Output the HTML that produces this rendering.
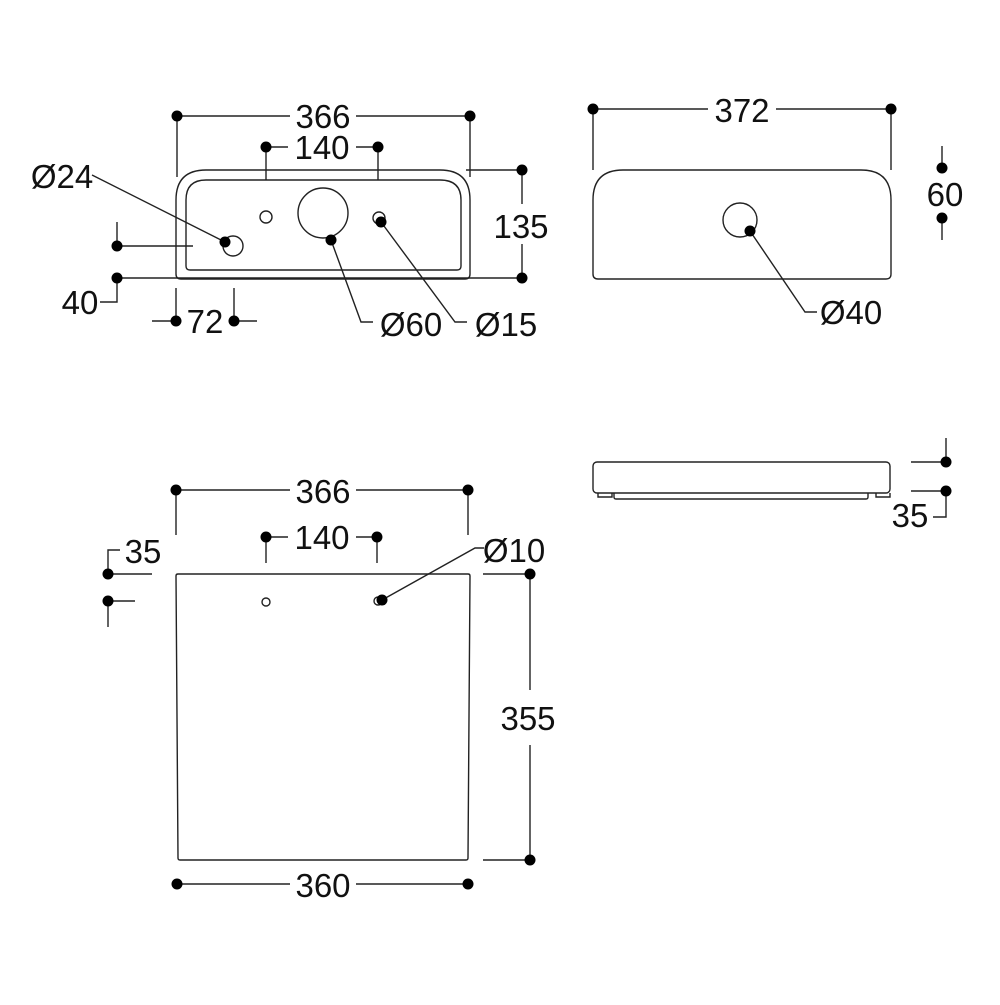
<!DOCTYPE html>
<html><head><meta charset="utf-8"><style>html,body{margin:0;padding:0;background:#fff}</style></head><body>
<svg width="1000" height="1000" viewBox="0 0 1000 1000" xmlns="http://www.w3.org/2000/svg" font-family="Liberation Sans, sans-serif" font-size="33" fill="none" stroke="#222" stroke-width="1.4">
<g fill="#111" stroke="none" text-anchor="middle">
<text x="323" y="128">366</text>
<text x="322" y="159">140</text>
<text x="521" y="238">135</text>
<text x="80" y="314">40</text>
<text x="205" y="333">72</text>
<text x="411" y="336">Ø60</text>
<text x="506" y="336">Ø15</text>
<text x="62" y="188">Ø24</text>
<text x="742" y="122">372</text>
<text x="945" y="206">60</text>
<text x="851" y="324">Ø40</text>
<text x="910" y="527">35</text>
<text x="323" y="503">366</text>
<text x="322" y="549">140</text>
<text x="143" y="563">35</text>
<text x="514" y="562">Ø10</text>
<text x="528" y="730">355</text>
<text x="323" y="897">360</text>
</g>
<!-- top-left view -->
<path d="M176 274 V200 Q176 170 206 170 H440 Q470 170 470 200 V274 Q470 279 465 279 H181 Q176 279 176 274Z"/>
<path d="M186 266 V200 Q186 180 206 180 H440 Q461 180 461 200 V266 Q461 270 457 270 H190 Q186 270 186 266Z"/>
<circle cx="266" cy="217" r="6"/><circle cx="323" cy="213" r="25"/><circle cx="379" cy="218" r="6"/><circle cx="233" cy="246" r="10"/>
<path d="M177 116 H290 M356 116 H470 M177 116 V177 M470 116 V177"/>
<path d="M266 147 H288 M356 147 H378 M266 147 V180 M378 147 V180"/>
<path d="M466 170 H522 V204 M522 244 V278"/>
<path d="M117 278 H522 M117 246 H193 M117 222 V246 M117 278 V302 H100"/>
<path d="M176 288 V321 M234 288 V321 M152 321 H176 M234 321 H257"/>
<path d="M92 175 L225 242 M331 240 L361 322 H373 M381 222 L455 322 H467"/>
<!-- top-right view -->
<path d="M593 274 V200 Q593 170 623 170 H861 Q891 170 891 200 V274 Q891 279 886 279 H598 Q593 279 593 274Z"/>
<circle cx="740" cy="220" r="17"/>
<path d="M593 109 H708 M776 109 H891 M593 109 V170 M891 109 V170"/>
<path d="M750 231 L805 312 H817"/>
<path d="M942 146 V168 M942 218 V240"/>
<!-- side view -->
<rect x="593" y="462" width="297" height="31" rx="4"/>
<path d="M614 493 V497 Q614 499 616 499 H866 Q868 499 868 497 V493 M598 493 V497 H612 V493 M876 493 V497 H890 V493"/>
<path d="M911 462 H946 M911 491 H946 M946 438 V462 M946 491 V517 H933"/>
<!-- bottom view -->
<path d="M178 574 H468 Q470 574 470 576 L468 858 Q468 860 466 860 H180 Q178 860 178 858 L176 576 Q176 574 178 574Z"/>
<circle cx="266" cy="602" r="4"/><circle cx="378" cy="601" r="4"/>
<path d="M176 490 H290 M356 490 H468 M176 490 V535 M468 490 V535"/>
<path d="M266 537 H288 M356 537 H377 M266 537 V563 M377 537 V563"/>
<path d="M108 574 H152 M108 574 V550 H120 M108 601 H135 M108 601 V627"/>
<path d="M382 600 L475 548 H484"/>
<path d="M483 574 H530 M483 860 H530 M530 574 V690 M530 745 V860"/>
<path d="M177 884 H290 M356 884 H468"/>
<g fill="#000" stroke="none">
<circle cx="177" cy="116" r="5.5"/><circle cx="470" cy="116" r="5.5"/><circle cx="266" cy="147" r="5.5"/><circle cx="378" cy="147" r="5.5"/>
<circle cx="522" cy="170" r="5.5"/><circle cx="522" cy="278" r="5.5"/><circle cx="117" cy="246" r="5.5"/><circle cx="117" cy="278" r="5.5"/>
<circle cx="176" cy="321" r="5.5"/><circle cx="234" cy="321" r="5.5"/><circle cx="225" cy="242" r="5.5"/><circle cx="331" cy="240" r="5.5"/><circle cx="381" cy="222" r="5.5"/>
<circle cx="593" cy="109" r="5.5"/><circle cx="891" cy="109" r="5.5"/><circle cx="750" cy="231" r="5.5"/><circle cx="942" cy="168" r="5.5"/><circle cx="942" cy="218" r="5.5"/>
<circle cx="946" cy="462" r="5.5"/><circle cx="946" cy="491" r="5.5"/>
<circle cx="176" cy="490" r="5.5"/><circle cx="468" cy="490" r="5.5"/><circle cx="266" cy="537" r="5.5"/><circle cx="377" cy="537" r="5.5"/>
<circle cx="108" cy="574" r="5.5"/><circle cx="108" cy="601" r="5.5"/><circle cx="382" cy="600" r="5.5"/>
<circle cx="530" cy="574" r="5.5"/><circle cx="530" cy="860" r="5.5"/><circle cx="177" cy="884" r="5.5"/><circle cx="468" cy="884" r="5.5"/>
</g>
</svg>
</body></html>
